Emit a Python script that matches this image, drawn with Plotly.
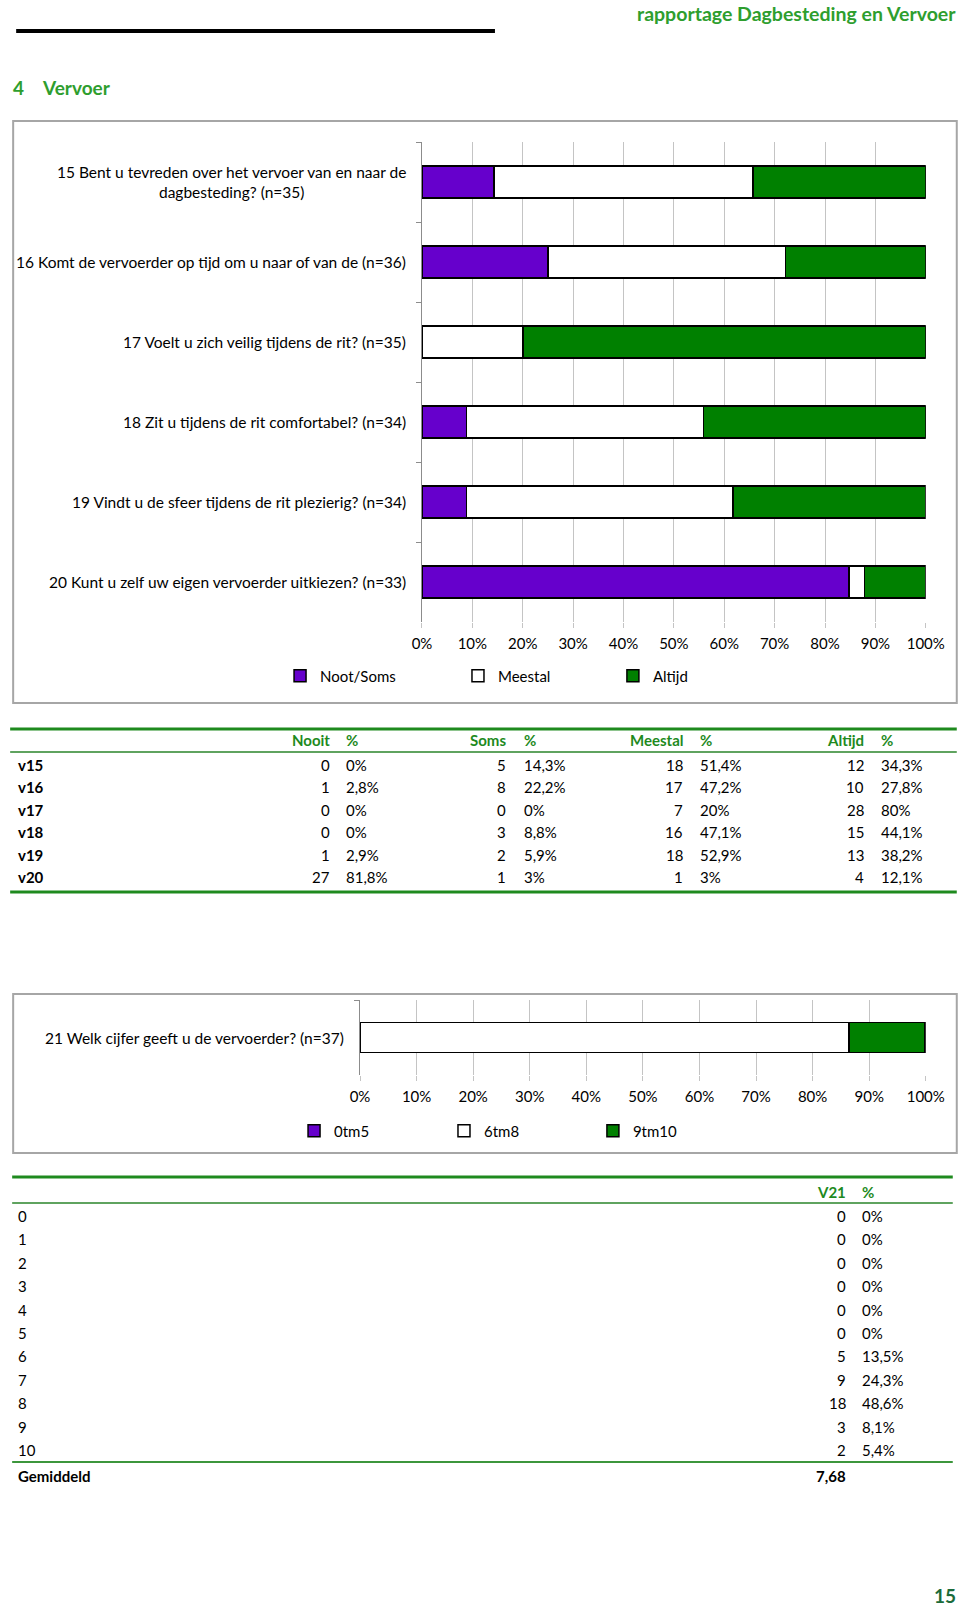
import plotly.graph_objects as go

# design coordinates are in reference pixels (960 x 1607 page)
REF_W, H = 960, 1607
# horizontal correction measured from the rendered output (render -> image mapping)
SX, OX = 0.9714, 8.84
W = 1000  # css width of the figure

# ---------------- data ----------------
questions = [
    "15 Bent u tevreden over het vervoer van en naar de<br>dagbesteding? (n=35)",
    "16 Komt de vervoerder op tijd om u naar of van de (n=36)",
    "17 Voelt u zich veilig tijdens de rit? (n=35)",
    "18 Zit u tijdens de rit comfortabel? (n=34)",
    "19 Vindt u de sfeer tijdens de rit plezierig? (n=34)",
    "20 Kunt u zelf uw eigen vervoerder uitkiezen? (n=33)",
]
row_ids = ["v15", "v16", "v17", "v18", "v19", "v20"]
nooit_n = [0, 1, 0, 0, 1, 27]
nooit_pct = [0, 2.8, 0, 0, 2.9, 81.8]
soms_n = [5, 8, 0, 3, 2, 1]
soms_pct = [14.3, 22.2, 0, 8.8, 5.9, 3]
meestal_n = [18, 17, 7, 16, 18, 1]
meestal_pct = [51.4, 47.2, 20, 47.1, 52.9, 3]
altijd_n = [12, 10, 28, 15, 13, 4]
altijd_pct = [34.3, 27.8, 80, 44.1, 38.2, 12.1]

legend1_names = ["Noot/Soms", "Meestal", "Altijd"]
table1_headers = ["Nooit", "Soms", "Meestal", "Altijd"]

q21 = ["21 Welk cijfer geeft u de vervoerder? (n=37)"]
cijfers = ["0", "1", "2", "3", "4", "5", "6", "7", "8", "9", "10"]
v21_n = [0, 0, 0, 0, 0, 0, 5, 9, 18, 3, 2]
v21_pct = [0, 0, 0, 0, 0, 0, 13.5, 24.3, 48.6, 8.1, 5.4]
gemiddeld = 7.68
legend2_names = ["0tm5", "6tm8", "9tm10"]

x_ticks = [0, 10, 20, 30, 40, 50, 60, 70, 80, 90, 100]
x_ticktext = [f"{t}%" for t in x_ticks]

# ---------------- styling ----------------
PURPLE = "#6600CC"
WHITE = "#FFFFFF"
GREEN = "#008000"
HDR_GREEN = "#2E9E2E"
TBL_GREEN = "#1E8A1E"
FONT = "Lato"
colors = [PURPLE, WHITE, GREEN]


def X(px):
    return ((px - OX) / SX) / W


def Y(py):
    return 1 - py / H


def fmt_pct(p):
    s = f"{p:.1f}"
    if s.endswith(".0"):
        s = s[:-2]
    return s.replace(".", ",") + "%"


fig = go.Figure()

# ---------------- chart 1 ----------------
noot_soms = [a + b for a, b in zip(nooit_pct, soms_pct)]
series1 = [noot_soms, meestal_pct, altijd_pct]
legend_pos1 = [279, 457, 612]
for i, (name, vals) in enumerate(zip(legend1_names, series1)):
    fig.add_trace(go.Bar(
        y=questions, x=vals, orientation="h", name=name, width=0.4,
        marker=dict(color=colors[i], line=dict(color="black", width=1.5)),
        xaxis="x", yaxis="y", legend="legend" if i == 0 else f"legend{i+1}",
        hoverinfo="skip",
    ))

# ---------------- chart 2 ----------------
series2 = [[sum(v21_pct[0:6])], [sum(v21_pct[6:9])], [sum(v21_pct[9:11])]]
legend_pos2 = [293, 443, 592]
for i, (name, vals) in enumerate(zip(legend2_names, series2)):
    fig.add_trace(go.Bar(
        y=q21, x=vals, orientation="h", name=name, width=0.4,
        marker=dict(color=colors[i], line=dict(color="black", width=1.5)),
        xaxis="x2", yaxis="y2", legend=f"legend{i+4}",
        hoverinfo="skip",
    ))

axis_font = dict(family=FONT, size=15, color="#000000")
label_font = dict(family=FONT, size=15.5, color="#000000")
xcommon = dict(range=[0, 100], tickvals=x_ticks, ticktext=x_ticktext,
               showgrid=True, gridcolor="#C4C4C4", gridwidth=1,
               ticks="outside", ticklen=5, tickcolor="#C4C4C4",
               ticklabelstandoff=3,
               zeroline=False, showline=False, tickfont=axis_font, fixedrange=True)
ycommon = dict(type="category", showticklabels=False, ticks="outside",
               tickson="boundaries", ticklen=5, tickcolor="#8C8C8C",
               showline=True, linecolor="#8C8C8C", linewidth=1,
               showgrid=False, zeroline=False, fixedrange=True)

# shapes
shapes = []
shapes.append(dict(type="line", xref="paper", yref="paper",
                   x0=X(15), x1=X(494), y0=Y(31), y1=Y(31),
                   line=dict(color="black", width=4)))
for (x0, y0, x1, y1) in [(12, 121, 956, 703), (12, 994, 956, 1153)]:
    shapes.append(dict(type="rect", xref="paper", yref="paper",
                       x0=X(x0), x1=X(x1), y0=Y(y0), y1=Y(y1),
                       line=dict(color="#A6A6A6", width=2), fillcolor="rgba(0,0,0,0)",
                       layer="below"))
for (x0, x1, yy, w, c) in [(9, 956, 729, 3, TBL_GREEN), (9, 956, 752, 2, "#5FA35F"),
                           (9, 956, 892, 3, TBL_GREEN),
                           (11, 952, 1177, 3, TBL_GREEN), (11, 952, 1203, 2, "#5FA35F"),
                           (11, 952, 1462, 2, "#3C963C")]:
    shapes.append(dict(type="line", xref="paper", yref="paper",
                       x0=X(x0), x1=X(x1), y0=Y(yy), y1=Y(yy),
                       line=dict(color=c, width=w)))

annotations = []


def ann(text, x, y, xanchor="left", size=15, color="#000000", bold=False,
        align="left", family=FONT):
    if bold:
        text = f"<b>{text}</b>"
    annotations.append(dict(text=text, x=X(x), y=Y(y), xref="paper", yref="paper",
                            xanchor=xanchor, yanchor="middle", showarrow=False,
                            align=align, font=dict(family=family, size=size, color=color)))


ann("rapportage Dagbesteding en Vervoer", 957, 14, xanchor="right", size=19.5,
    color=HDR_GREEN, bold=True)
ann("4", 10, 87, size=19, color=HDR_GREEN, bold=True)
ann("Vervoer", 39, 87, size=19, color=HDR_GREEN, bold=True)
ann("15", 957, 1595, xanchor="right", size=19, color="#1B6B3A", bold=True)

for q in questions:
    annotations.append(dict(text=q, x=X(407), y=q, xref="paper", yref="y",
                            xanchor="right", yanchor="middle", showarrow=False,
                            align="center", font=label_font))
for q in q21:
    annotations.append(dict(text=q, x=X(345), y=q, xref="paper", yref="y2",
                            xanchor="right", yanchor="middle", showarrow=False,
                            align="center", font=label_font))

hdr_y = 740.5
col_right = [331, 507, 684, 865]
col_pct = [343, 521, 697, 878]
ns = [nooit_n, soms_n, meestal_n, altijd_n]
ps = [nooit_pct, soms_pct, meestal_pct, altijd_pct]
for j, h in enumerate(table1_headers):
    ann(h, col_right[j], hdr_y, xanchor="right", color=TBL_GREEN, bold=True)
    ann("%", col_pct[j], hdr_y, xanchor="left", color=TBL_GREEN, bold=True)
row_y0, row_step = 764.5, 22.5
for i, rid in enumerate(row_ids):
    yy = row_y0 + i * row_step
    ann(rid, 15, yy, bold=True)
    for j in range(4):
        ann(str(ns[j][i]), col_right[j], yy, xanchor="right")
        ann(fmt_pct(ps[j][i]), col_pct[j], yy, xanchor="left")

ann("V21", 847, 1192, xanchor="right", color=TBL_GREEN, bold=True)
ann("%", 859, 1192, xanchor="left", color=TBL_GREEN, bold=True)
r2_y0, r2_step = 1216, 23.4
for i, c in enumerate(cijfers):
    yy = r2_y0 + i * r2_step
    ann(c, 15, yy)
    ann(str(v21_n[i]), 847, yy, xanchor="right")
    ann(fmt_pct(v21_pct[i]), 859, yy, xanchor="left")
ann("Gemiddeld", 15, 1476, bold=True)
ann(f"{gemiddeld:.2f}".replace(".", ","), 847, 1476, xanchor="right", bold=True)

legend_common = dict(orientation="h", xanchor="left", yanchor="middle",
                     bgcolor="rgba(0,0,0,0)", borderwidth=0,
                     font=dict(family=FONT, size=15, color="#000000"),
                     itemclick=False, itemdoubleclick=False)
legends = {}
for i, lx in enumerate(legend_pos1):
    key = "legend" if i == 0 else f"legend{i+1}"
    legends[key] = dict(x=X(lx), y=Y(676), **legend_common)
for i, lx in enumerate(legend_pos2):
    legends[f"legend{i+4}"] = dict(x=X(lx), y=Y(1131), **legend_common)

fig.update_layout(
    width=W, height=H, autosize=False,
    margin=dict(l=0, r=0, t=0, b=0, pad=0),
    paper_bgcolor="white", plot_bgcolor="white",
    barmode="stack", showlegend=True,
    font=dict(family=FONT, size=15, color="#000000"),
    xaxis=dict(domain=[X(421), X(925)], anchor="y", **xcommon),
    yaxis=dict(domain=[Y(622), Y(142)], anchor="x",
               categoryorder="array", categoryarray=questions,
               range=[len(questions) - 0.5, -0.5], **ycommon),
    xaxis2=dict(domain=[X(359), X(925)], anchor="y2", **xcommon),
    yaxis2=dict(domain=[Y(1075), Y(1000)], anchor="x2",
                range=[0.5, -0.5], **ycommon),
    shapes=shapes,
    annotations=annotations,
    **legends,
)

post = (
    "var de=document.documentElement, b=document.body;"
    "de.style.margin='0';de.style.padding='0';de.style.overflow='hidden';"
    "b.style.margin='0';b.style.padding='0';b.style.overflow='hidden';"
    "var gd=document.getElementById('{plot_id}');"
    "if(gd){gd.style.position='absolute';gd.style.left='0px';gd.style.top='0px';}"
)

fig.write_html("out.html", config={"displayModeBar": False, "responsive": False},
               post_script=post)
